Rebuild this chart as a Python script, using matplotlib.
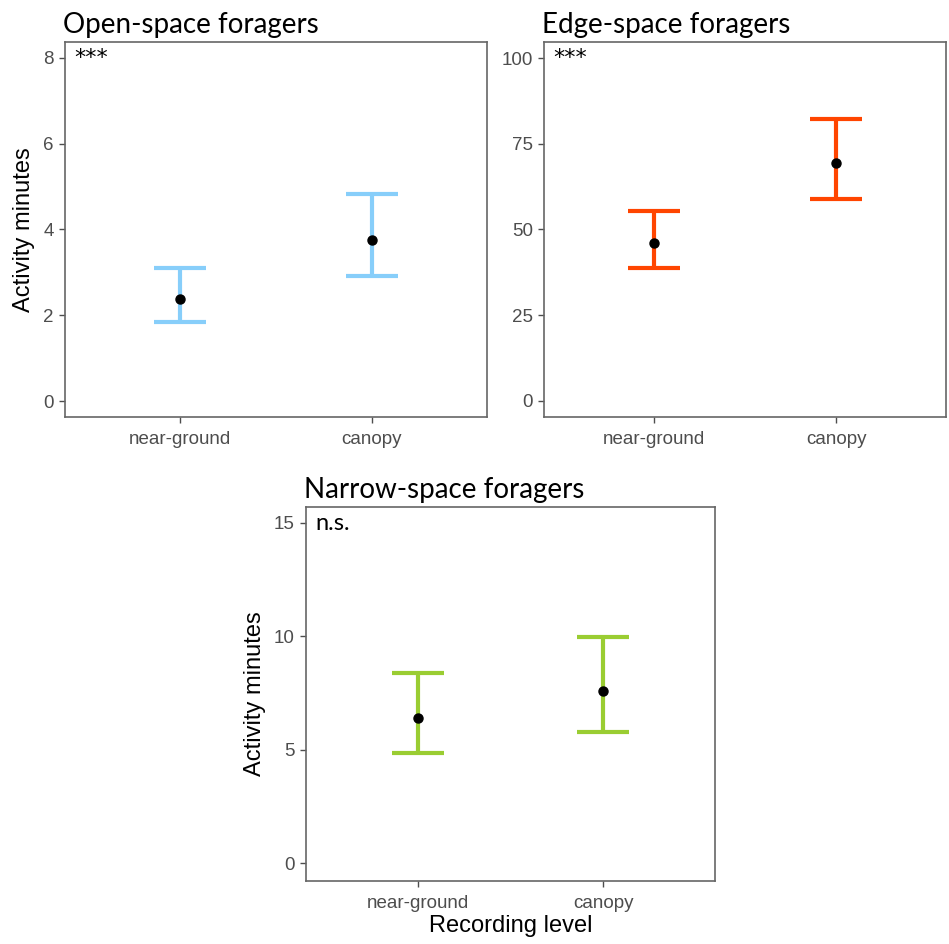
import numpy as np
import matplotlib.pyplot as plt

levels = ['near-ground', 'canopy']

open_mean = [2.38, 3.75]
open_low = [1.85, 2.92]
open_high = [3.10, 4.83]

edge_mean = [46.1, 69.4]
edge_low = [38.8, 58.9]
edge_high = [55.4, 82.2]

narrow_mean = [6.40, 7.59]
narrow_low = [4.85, 5.78]
narrow_high = [8.38, 9.97]

panels = [
  ('Open-space foragers', open_mean, open_low, open_high, '#87CEFA', [0, 2, 4, 6, 8], (-0.37, 8.37), '***'),
  ('Edge-space foragers', edge_mean, edge_low, edge_high, '#FF4500', [0, 25, 50, 75, 100], (-4.7, 104.7), '***'),
  ('Narrow-space foragers', narrow_mean, narrow_low, narrow_high, '#9ACD32', [0, 5, 10, 15], (-0.79, 15.7), 'n.s.'),
]

rects = [
  [0.0685, 0.5583, 0.4447, 0.3972],
  [0.5732, 0.5583, 0.4236, 0.3972],
  [0.3224, 0.0667, 0.4310, 0.3962],
]

plt.rcParams['font.family'] = ['Liberation Sans', 'DejaVu Sans']
fig = plt.figure(figsize=(9.49, 9.44), dpi=100)

for i, (title, m, lo, hi, col, ticks, ylim, sig) in enumerate(panels):
  ax = fig.add_axes(rects[i])
  x = np.arange(1, len(levels) + 1)
  m = np.array(m); lo = np.array(lo); hi = np.array(hi)
  ax.errorbar(x, m, yerr=[m - lo, hi - m], fmt='none', ecolor=col,
              elinewidth=3, capsize=19, capthick=3, zorder=2)
  ax.plot(x, m, 'o', color='black', markersize=6.5, zorder=3)
  ax.set_xlim(0.4, 2.6)
  ax.set_ylim(*ylim)
  ax.set_xticks(x)
  ax.set_xticklabels(levels)
  ax.set_yticks(ticks)
  ax.tick_params(colors='#4D4D4D', labelsize=13.5, length=4, width=1, pad=4)
  ax.tick_params(axis='x', pad=6)
  for s in ax.spines.values():
    s.set_color('#666666')
    s.set_linewidth(1.2)
  ax.text(-0.005, 1.012, title, transform=ax.transAxes, ha='left', va='bottom',
          fontsize=20, family=['Lato', 'DejaVu Sans'], color='black')
  if sig == '***':
    ax.text(0.022, 0.985, sig, transform=ax.transAxes, ha='left', va='top',
            fontsize=16, family=['DejaVu Sans'], color='black')
  else:
    ax.text(0.022, 0.985, sig, transform=ax.transAxes, ha='left', va='top',
            fontsize=17, family=['Lato', 'DejaVu Sans'], color='black')
  if i != 1:
    ax.set_ylabel('Activity minutes', fontsize=17, color='black', labelpad=6)
  if i == 2:
    ax.set_xlabel('Recording level', fontsize=17, color='black', labelpad=2)

fig.savefig('out.png', dpi=100)
